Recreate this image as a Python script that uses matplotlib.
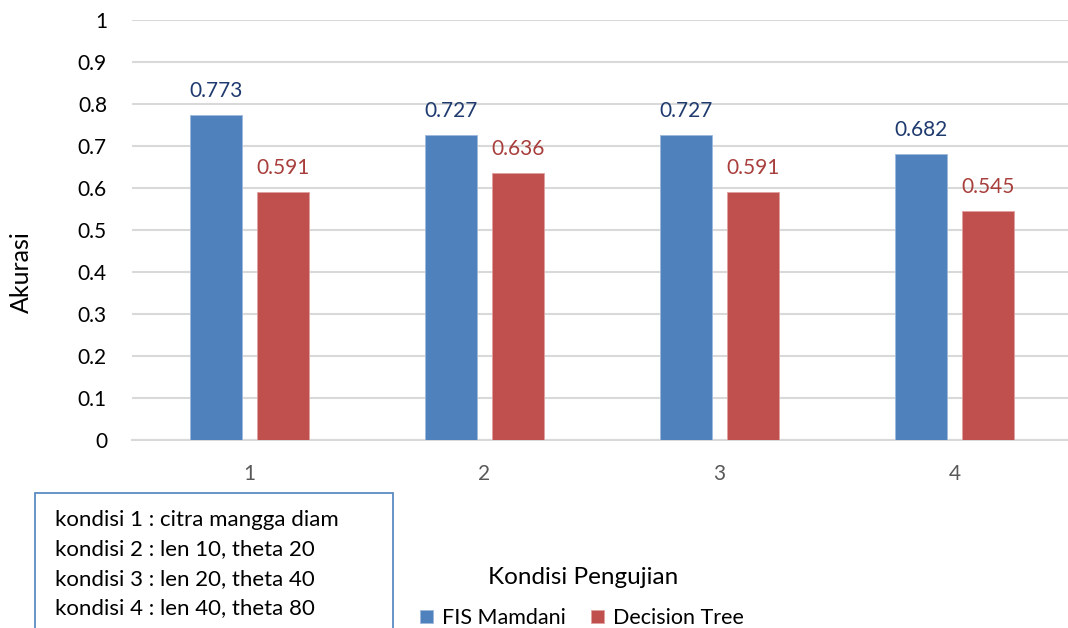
import matplotlib
matplotlib.use("Agg")
import matplotlib.pyplot as plt
from matplotlib.patches import Rectangle
import numpy as np

plt.rcParams['font.family'] = ['Lato', 'DejaVu Sans']

# data
kondisi = ["1", "2", "3", "4"]
fis_mamdani = [0.773, 0.727, 0.727, 0.682]
decision_tree = [0.591, 0.636, 0.591, 0.545]
keterangan = [
    "kondisi 1 : citra mangga diam",
    "kondisi 2 : len 10, theta 20",
    "kondisi 3 : len 20, theta 40",
    "kondisi 4 : len 40, theta 80",
]

biru = "#4F81BD"
merah = "#C0504D"
grid_c = "#D9D9D9"

fig = plt.figure(figsize=(10.68, 6.28), dpi=100)
ax = fig.add_axes([132 / 1068, 1 - 440 / 628, 940 / 1068, 420 / 628])

x = np.arange(len(kondisi))
lebar = 0.221
geser = 0.1425

b1 = ax.bar(x - geser, fis_mamdani, lebar, color=biru, edgecolor="#9DB8DB",
            linewidth=0.6, label="FIS Mamdani", zorder=3)
b2 = ax.bar(x + geser, decision_tree, lebar, color=merah, edgecolor="#E0A09E",
            linewidth=0.6, label="Decision Tree", zorder=3)

for bar, v in zip(b1, fis_mamdani):
    ax.annotate(f"{v:.3f}", (bar.get_x() + bar.get_width() / 2, v),
                xytext=(0, 10), textcoords="offset points", ha="center",
                va="bottom", fontsize=15, color="#1F3A6E")
for bar, v in zip(b2, decision_tree):
    ax.annotate(f"{v:.3f}", (bar.get_x() + bar.get_width() / 2, v),
                xytext=(0, 10), textcoords="offset points", ha="center",
                va="bottom", fontsize=15, color="#A83F3C")

ax.set_xlim(-0.5, len(kondisi) - 0.5)
ax.set_ylim(0, 1)
ax.set_yticks(np.arange(0, 1.01, 0.1))
ax.set_yticklabels(["0"] + [f"{t:.1f}" for t in np.arange(0.1, 0.95, 0.1)] + ["1"])
ax.set_xticks(x)
ax.set_xticklabels(kondisi)
ax.tick_params(axis="y", length=0, pad=18, labelsize=15, labelcolor="#000000")
ax.tick_params(axis="x", length=0, pad=17, labelsize=15, labelcolor="#595959")
ax.grid(axis="y", color=grid_c, linewidth=1.5, zorder=0)
for s in ["top", "right", "left"]:
    ax.spines[s].set_visible(False)
ax.spines["bottom"].set_color(grid_c)
ax.spines["bottom"].set_linewidth(1.5)

fig.text(21 / 1068, 1 - 272 / 628, "Akurasi", rotation=90, ha="center",
         va="center", fontsize=18)
fig.text(583 / 1068, 1 - 577 / 628, "Kondisi Pengujian", ha="center",
         va="center", fontsize=17.5)

# kotak keterangan
fig.patches.append(Rectangle((35 / 1068, 1 - 640 / 628), 358 / 1068, 147 / 628,
                             transform=fig.transFigure, fill=False,
                             edgecolor=biru, linewidth=1.2))
for i, t in enumerate(keterangan):
    fig.text(55 / 1068, 1 - (520 + i * 29.3) / 628, t, ha="left",
             va="center", fontsize=16)

fig.legend(handles=[b1, b2], loc="center", bbox_to_anchor=(582 / 1068, 1 - 618 / 628),
           ncol=2, frameon=False, fontsize=15.5, handlelength=0.6, handleheight=0.6,
           handletextpad=0.4, columnspacing=1.2)

fig.savefig("out.png", dpi=100)
